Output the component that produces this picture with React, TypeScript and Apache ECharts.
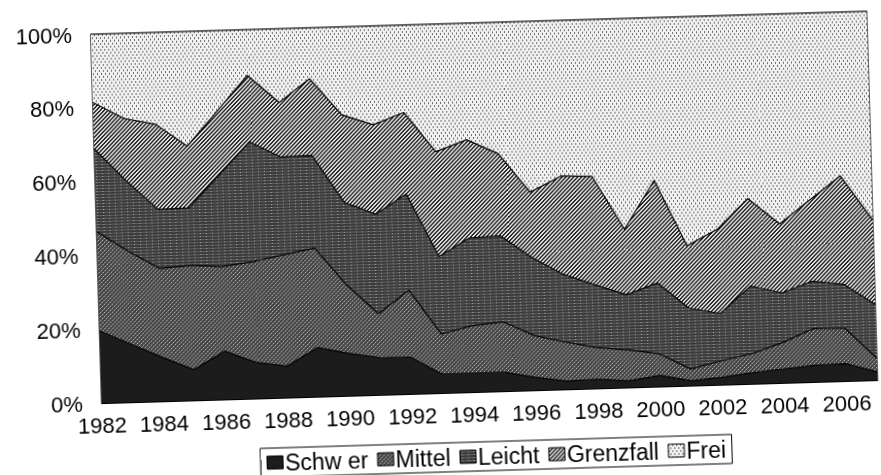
import React, { useEffect, useRef } from "react";
import * as echarts from "echarts";

const years = [
  "1982", "1983", "1984", "1985", "1986", "1987", "1988", "1989", "1990",
  "1991", "1992", "1993", "1994", "1995", "1996", "1997", "1998", "1999",
  "2000", "2001", "2002", "2003", "2004", "2005", "2006", "2007",
];

const schwer = [19.6, 15.7, 11.9, 8.3, 13.1, 9.8, 8.5, 13.3, 11.5, 10.1, 9.9, 5.1, 5.1, 5.1, 3.5, 2.2, 2.5, 1.8, 3.0, 1.3, 2.0, 3.0, 3.8, 4.5, 4.7, 2.2];
const mittel = [26.9, 25.2, 24.1, 28.3, 22.9, 27.3, 30.2, 27.0, 18.5, 11.9, 18.2, 10.9, 12.9, 13.7, 11.3, 10.6, 8.6, 8.4, 5.9, 3.2, 4.5, 5.2, 7.2, 10.0, 9.6, 3.7];
const leicht = [22.4, 19.1, 16.0, 15.6, 24.9, 32.5, 26.5, 25.1, 22.4, 27.0, 26.1, 21.0, 23.8, 23.3, 21.1, 18.3, 17.0, 14.9, 19.2, 16.5, 12.8, 18.3, 13.4, 12.8, 11.9, 14.6];
const grenzfall = [12.6, 16.9, 23.1, 16.7, 17.3, 18.0, 14.8, 20.8, 23.8, 24.2, 22.1, 28.4, 26.6, 22.3, 17.8, 26.7, 29.4, 17.8, 27.8, 16.9, 22.9, 23.7, 18.7, 22.1, 29.4, 22.9];
const frei = [18.5, 23.1, 24.9, 31.1, 21.8, 12.4, 20.0, 13.8, 23.8, 26.8, 23.7, 34.6, 31.6, 35.6, 46.3, 42.2, 42.5, 57.1, 44.1, 62.1, 57.8, 49.8, 56.9, 50.6, 44.4, 56.6];

const seriesNames = ["Schw er", "Mittel", "Leicht", "Grenzfall", "Frei"];
const yTicks = [0, 20, 40, 60, 80, 100];

function makePattern(w: number, h: number, draw: (ctx: CanvasRenderingContext2D) => void): any {
  const c = document.createElement("canvas");
  c.width = w;
  c.height = h;
  const ctx = c.getContext("2d") as CanvasRenderingContext2D;
  draw(ctx);
  return { image: c, repeat: "repeat" };
}

function buildFills(): any[] {
  const schwerFill = "#1c1c1c";
  const mittelFill = makePattern(4, 4, (ctx) => {
    ctx.fillStyle = "#444444";
    ctx.fillRect(0, 0, 4, 4);
    ctx.fillStyle = "#bdbdbd";
    ctx.fillRect(0, 0, 1, 1);
    ctx.fillRect(2, 2, 1, 1);
    ctx.fillStyle = "#7a7a7a";
    ctx.fillRect(1, 3, 1, 1);
    ctx.fillRect(3, 1, 1, 1);
  });
  const leichtFill = makePattern(6, 3, (ctx) => {
    ctx.fillStyle = "#3c3c3c";
    ctx.fillRect(0, 0, 6, 3);
    ctx.fillStyle = "#5c5c5c";
    ctx.fillRect(0, 1, 6, 1);
    ctx.fillStyle = "#a8a8a8";
    ctx.fillRect(2, 1, 1, 1);
  });
  const grenzFill = makePattern(4, 4, (ctx) => {
    ctx.fillStyle = "#e8e8e8";
    ctx.fillRect(0, 0, 4, 4);
    ctx.fillStyle = "#222222";
    for (let i = 0; i < 4; i++) {
      ctx.fillRect(i, 3 - i, 1, 1);
      ctx.fillRect((i + 1) % 4, 3 - i, 1, 1);
    }
  });
  const freiFill = makePattern(4, 6, (ctx) => {
    ctx.fillStyle = "#f2f2f2";
    ctx.fillRect(0, 0, 4, 6);
    ctx.fillStyle = "#6a6a6a";
    ctx.fillRect(0, 0, 1, 2);
    ctx.fillRect(2, 3, 1, 2);
  });
  return [schwerFill, mittelFill, leichtFill, grenzFill, freiFill];
}

export default function App() {
  const ref = useRef<HTMLDivElement>(null);

  useEffect(() => {
    if (!ref.current) return;
    const chart = echarts.init(ref.current, null, { renderer: "svg" });
    const fills = buildFills();
    const values = [schwer, mittel, leicht, grenzfall, frei];
    const font = "'Liberation Sans', Arial, sans-serif";

    chart.setOption({
      animation: false,
      backgroundColor: "transparent",
      textStyle: { fontFamily: font },
      grid: {
        left: 97,
        right: 8,
        top: 24,
        bottom: 82,
        show: true,
        borderColor: "#000",
        borderWidth: 1.2,
        backgroundColor: "transparent",
      },
      legend: {
        left: 254,
        top: 443,
        icon: "rect",
        itemWidth: 16,
        itemHeight: 13,
        itemGap: 9,
        padding: [3, 6, 3, 6],
        borderColor: "#000",
        borderWidth: 1,
        textStyle: { fontSize: 23, color: "#000", fontFamily: font, padding: [0, 0, 0, -3] },
        data: seriesNames.map((n, i) => ({
          name: n,
          itemStyle: { color: fills[i], borderColor: "#000", borderWidth: 1 },
        })),
      },
      xAxis: {
        type: "category",
        data: years,
        boundaryGap: false,
        axisLine: { show: true, lineStyle: { color: "#000", width: 1.2 } },
        axisTick: { show: false },
        axisLabel: {
          interval: 1,
          fontSize: 22,
          color: "#000",
          margin: 11,
          fontFamily: font,
        },
        splitLine: { show: false },
      },
      yAxis: {
        type: "value",
        min: yTicks[0],
        max: yTicks[yTicks.length - 1],
        interval: 20,
        axisLine: { show: true, lineStyle: { color: "#000", width: 1.2 } },
        axisTick: { show: false },
        splitLine: { show: false },
        axisLabel: {
          formatter: "{value}%",
          fontSize: 22,
          color: "#000",
          margin: 19,
          fontFamily: font,
        },
      },
      series: seriesNames.map((n, i) => ({
        name: n,
        type: "line",
        stack: "total",
        data: values[i],
        symbol: "none",
        itemStyle: { color: "#000" },
        lineStyle: { color: "#000", width: 1.2 },
        areaStyle: { color: fills[i], opacity: 1 },
        emphasis: { disabled: true },
      })),
    });

    return () => {
      chart.dispose();
    };
  }, []);

  return (
    <div
      ref={ref}
      style={{
        position: "fixed",
        left: 0,
        top: 0,
        width: 881,
        height: 475,
        transform: "rotate(-1.7deg)",
        transformOrigin: "50% 50%",
      }}
    />
  );
}
